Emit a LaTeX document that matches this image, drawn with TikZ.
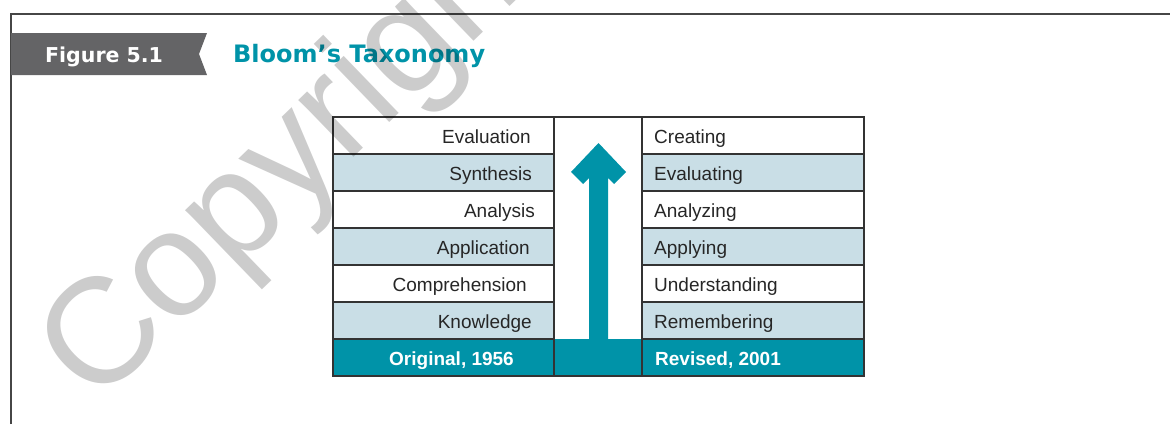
\documentclass[tikz,border=0pt]{standalone}
\usepackage{fontspec}
\setmainfont{Liberation Sans}
\newfontfamily\headfont{DejaVu Sans}
\usepackage{tikz}

\definecolor{bloomteal}{RGB}{0,147,168}
\definecolor{rowblue}{RGB}{201,222,230}
\definecolor{bannergray}{RGB}{100,100,102}
\definecolor{framegray}{RGB}{70,70,70}

\tikzset{
  cellline/.style={draw=black!80, line width=1.3pt},
  oldlevel/.style={anchor=base east, inner sep=0pt, font=\fontsize{19}{22}\selectfont, text=black!85},
  newlevel/.style={anchor=base west, inner sep=0pt, font=\fontsize{19}{22}\selectfont, text=black!85},
  yearlabel/.style={anchor=base west, inner sep=0pt, font=\fontsize{19}{22}\selectfont\bfseries, text=white},
}

\begin{document}
\begin{tikzpicture}[x=1pt,y=-1pt]
\clip (0,0) rectangle (1170,424);

% page frame and banner
\draw[framegray, line width=1.5pt] (11,424) -- (11,14) -- (1170,14);
\fill[bannergray] (11,33) -- (207,33) -- (199,54) -- (207,75) -- (11,75) -- cycle;
\node[anchor=base west, inner sep=0pt, text=white, font=\headfont\bfseries\fontsize{20.5}{24}\selectfont] (fignum) at (45,62) {Figure 5.1};
\node[anchor=base west, inner sep=0pt, text=bloomteal, font=\headfont\bfseries\fontsize{24}{28}\selectfont] (title) at (233,62) {Bloom’s Taxonomy};

% shaded rows
\fill[rowblue] (333,154) rectangle (554,191);
\fill[rowblue] (642,154) rectangle (864,191);
\fill[rowblue] (333,228) rectangle (554,265);
\fill[rowblue] (642,228) rectangle (864,265);
\fill[rowblue] (333,302) rectangle (554,339);
\fill[rowblue] (642,302) rectangle (864,339);
\fill[bloomteal] (333,339) rectangle (864,376);

% arrow up the middle column
\fill[bloomteal] (598.5,143) -- (626,172) -- (614,184) -- (608,178) -- (608,340)
  -- (589,340) -- (589,178) -- (583,184) -- (571,172) -- cycle;

% grid
\draw[cellline] (333,117) rectangle (864,376);
\draw[cellline] (554,117) -- (554,376);
\draw[cellline] (642,117) -- (642,376);
\draw[cellline] (333,154) -- (554,154);
\draw[cellline] (333,191) -- (554,191);
\draw[cellline] (333,228) -- (554,228);
\draw[cellline] (333,265) -- (554,265);
\draw[cellline] (333,302) -- (554,302);
\draw[cellline] (333,339) -- (554,339);
\draw[cellline] (642,154) -- (864,154);
\draw[cellline] (642,191) -- (864,191);
\draw[cellline] (642,228) -- (864,228);
\draw[cellline] (642,265) -- (864,265);
\draw[cellline] (642,302) -- (864,302);
\draw[cellline] (642,339) -- (864,339);

% 1956 levels
\node[oldlevel] (evaluation) at (531,143) {Evaluation};
\node[oldlevel] (synthesis) at (532,180) {Synthesis};
\node[oldlevel] (analysis) at (535,217) {Analysis};
\node[oldlevel] (application) at (530,254) {Application};
\node[oldlevel] (comprehension) at (527,291) {Comprehension};
\node[oldlevel] (knowledge) at (532,328) {Knowledge};
\node[yearlabel] (original) at (389,365) {Original, 1956};

% 2001 levels
\node[newlevel] (creating) at (654,143) {Creating};
\node[newlevel] (evaluating) at (654,180) {Evaluating};
\node[newlevel] (analyzing) at (654,217) {Analyzing};
\node[newlevel] (applying) at (654,254) {Applying};
\node[newlevel] (understanding) at (654,291) {Understanding};
\node[newlevel] (remembering) at (654,328) {Remembering};
\node[yearlabel] (revised) at (655,365) {Revised, 2001};

% stamp across the page
\node[rotate=44, anchor=base west, inner sep=0pt, text=black, text opacity=0.2,
  font=\fontsize{150}{150}\selectfont] (stamp) at (95,408) {Copyright};
\end{tikzpicture}
\end{document}
